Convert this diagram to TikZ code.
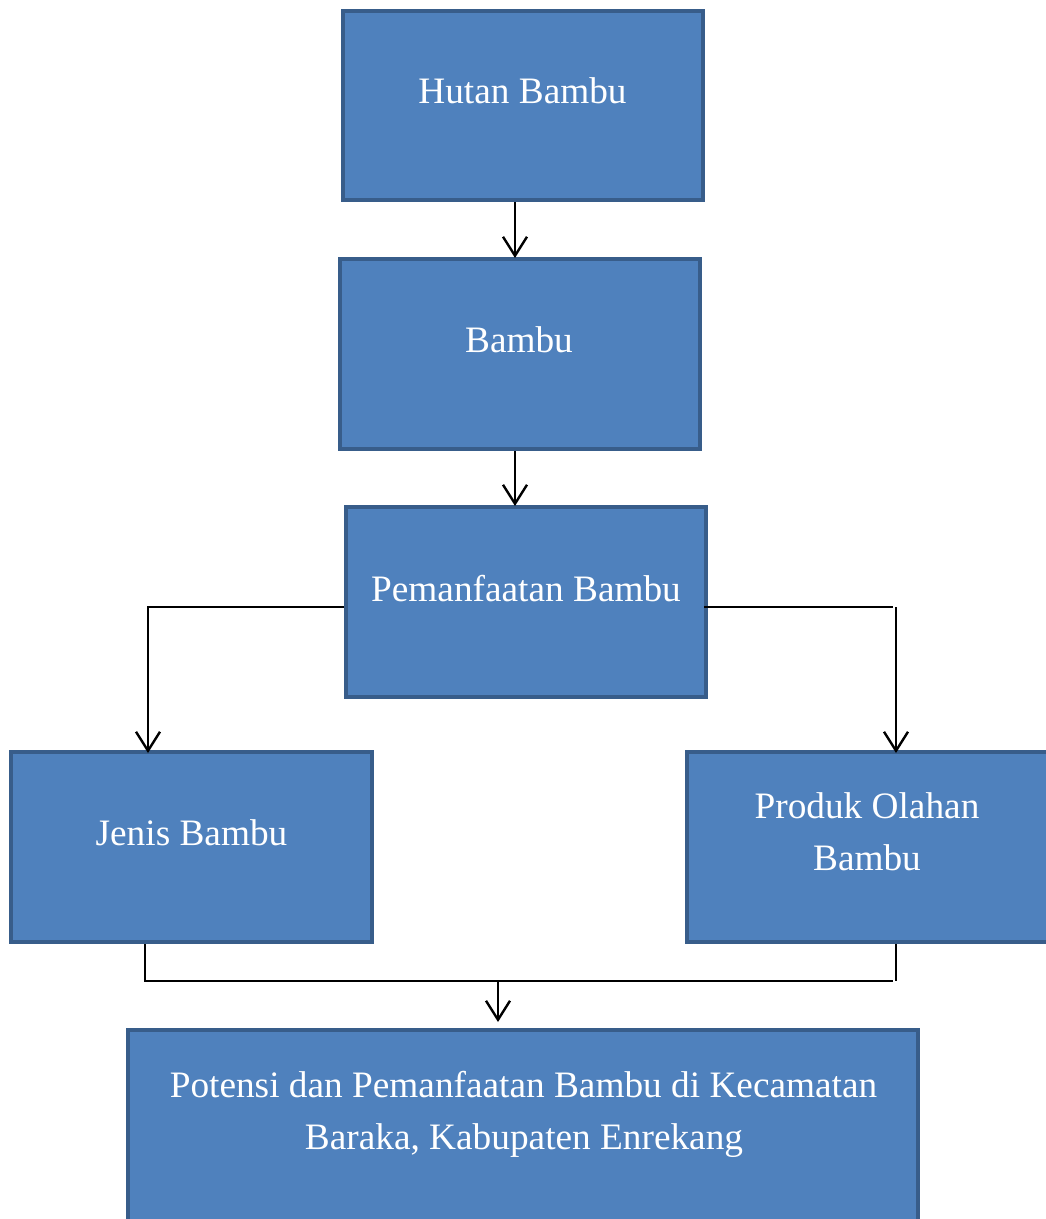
\documentclass[tikz,border=0pt]{standalone}
\usepackage{fontspec}
\setmainfont{Liberation Serif}
\usetikzlibrary{arrows.meta}
\definecolor{boxfill}{HTML}{4F81BD}
\definecolor{boxline}{HTML}{385D8A}
\begin{document}
\begin{tikzpicture}[x=1pt,y=-1pt,
  box/.style={draw=boxline,fill=boxfill,line width=4pt,rectangle,inner sep=0pt,anchor=north west},
  txt/.style={text=white,font=\fontsize{37.3}{52}\selectfont,anchor=base,inner sep=0pt},
  conn/.style={line width=2.4pt,black},
  arr/.style={conn,-{Straight Barb[length=19pt,width=24pt,line width=2.4pt]}}]
\useasboundingbox (0,0) rectangle (1045,1219);
% boxes
\node[box,minimum width=360pt,minimum height=189pt] (h) at (341,9) {};
\node[box,minimum width=360pt,minimum height=190pt] (b) at (338,257) {};
\node[box,minimum width=360pt,minimum height=190pt] (p) at (344,505) {};
\node[box,minimum width=361pt,minimum height=190pt] (j) at (9,750) {};
\node[box,minimum width=365pt,minimum height=190pt] (o) at (685,750) {};
\node[box,minimum width=790pt,minimum height=194pt] (k) at (126,1028) {};
% texts
\node[txt] (th) at (522.5,103) {Hutan Bambu};
\node[txt] (tb) at (519,352) {Bambu};
\node[txt] (tp) at (526,601) {Pemanfaatan Bambu};
\node[txt] (tj) at (191.5,845) {Jenis Bambu};
\node[txt] (to1) at (867,818) {Produk Olahan};
\node[txt] (to2) at (867,870) {Bambu};
\node[txt] (tk1) at (523.5,1097) {Potensi dan Pemanfaatan Bambu di Kecamatan};
\node[txt] (tk2) at (524,1149) {Baraka, Kabupaten Enrekang};
% helper coordinates
\coordinate (ax) at (515,0);
\coordinate (py) at (0,607);
\coordinate (lx) at (148,0);
\coordinate (rx) at (896,0);
\coordinate (rend) at (893,607);
\coordinate (jb) at (145,0);
\coordinate (by) at (0,981);
\coordinate (bend) at (893,981);
\coordinate (mx) at (498,0);
\coordinate (ktop) at (498,1022);
% connectors
\draw[arr] (h.south -| ax) -- ([yshift=-1pt]b.north -| ax);
\draw[arr] (b.south -| ax) -- ([yshift=-1pt]p.north -| ax);
\draw[arr] (p.west |- py) -| ([yshift=-3pt]j.north -| lx);
\draw[conn] ([xshift=-4pt]p.east |- py) -- (rend);
\draw[arr] (rx |- py) -- ([yshift=-3pt]o.north -| rx);
\draw[conn] (j.south -| jb) |- (bend);
\draw[conn] (o.south -| rx) -- (rx |- by);
\draw[arr] (mx |- by) -- (ktop);
\end{tikzpicture}
\end{document}
